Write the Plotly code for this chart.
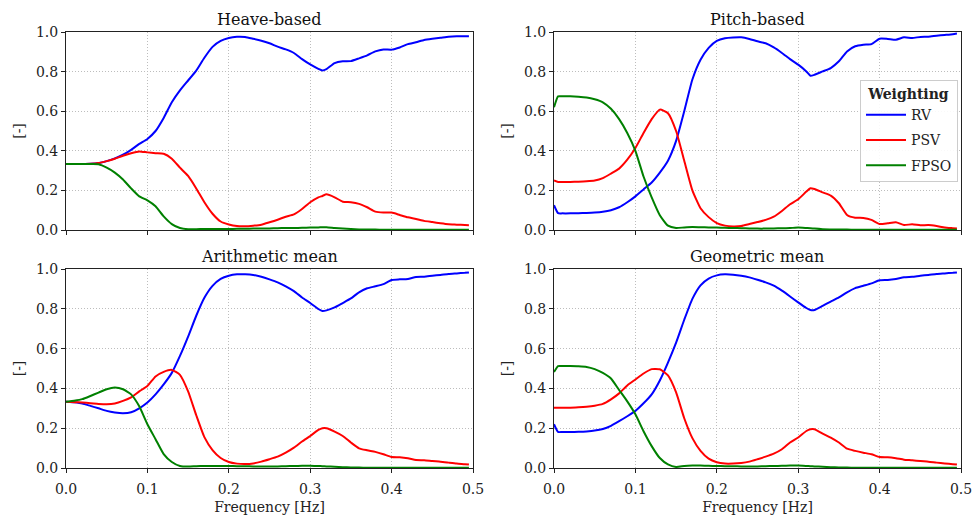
import plotly.graph_objects as go

freq = [0, 0.005, 0.01, 0.02, 0.03, 0.04, 0.05, 0.06, 0.07, 0.08, 0.09, 0.10,
        0.11, 0.12, 0.13, 0.14, 0.15, 0.16, 0.17, 0.18, 0.19, 0.20, 0.21, 0.22,
        0.23, 0.24, 0.25, 0.26, 0.27, 0.28, 0.29, 0.30, 0.31, 0.315, 0.32, 0.33,
        0.34, 0.35, 0.36, 0.37, 0.38, 0.39, 0.40, 0.41, 0.42, 0.43, 0.44, 0.45,
        0.46, 0.47, 0.48, 0.49, 0.495]

heave_rv = [0.333, 0.333, 0.333, 0.333, 0.334, 0.338, 0.348, 0.362, 0.38, 0.405, 0.435, 0.46,
            0.5, 0.566, 0.645, 0.705, 0.755, 0.805, 0.87, 0.925, 0.955, 0.97, 0.976, 0.975,
            0.966, 0.956, 0.943, 0.926, 0.912, 0.894, 0.863, 0.836, 0.814, 0.806, 0.813, 0.843,
            0.852, 0.853, 0.867, 0.882, 0.902, 0.912, 0.911, 0.922, 0.939, 0.948, 0.96, 0.966,
            0.971, 0.976, 0.978, 0.978, 0.978]
heave_psv = [0.333, 0.333, 0.333, 0.333, 0.334, 0.338, 0.348, 0.36, 0.375, 0.388, 0.397, 0.392,
             0.388, 0.385, 0.36, 0.315, 0.273, 0.21, 0.14, 0.082, 0.043, 0.028, 0.02, 0.019,
             0.022, 0.027, 0.039, 0.052, 0.067, 0.079, 0.106, 0.14, 0.165, 0.172, 0.180, 0.165,
             0.143, 0.14, 0.132, 0.115, 0.093, 0.088, 0.088, 0.076, 0.064, 0.056, 0.046, 0.04,
             0.034, 0.029, 0.027, 0.025, 0.024]
heave_fpso = [0.333, 0.333, 0.333, 0.333, 0.333, 0.332, 0.315, 0.29, 0.255, 0.21, 0.17, 0.15,
              0.12, 0.069, 0.03, 0.01, 0.004, 0.004, 0.005, 0.005, 0.005, 0.005, 0.006, 0.006,
              0.007, 0.007, 0.008, 0.009, 0.01, 0.01, 0.011, 0.012, 0.013, 0.014, 0.014, 0.01,
              0.007, 0.005, 0.003, 0.002, 0.002, 0.001, 0.001, 0.001, 0.001, 0.001, 0.001, 0.001,
              0.001, 0.001, 0.001, 0.001, 0.001]

pitch_rv = [0.125, 0.085, 0.084, 0.084, 0.085, 0.086, 0.088, 0.092, 0.10, 0.115, 0.14, 0.17,
            0.205, 0.24, 0.29, 0.35, 0.45, 0.60, 0.76, 0.86, 0.92, 0.955, 0.968, 0.972,
            0.973, 0.965, 0.953, 0.943, 0.922, 0.894, 0.863, 0.835, 0.801, 0.779, 0.784, 0.801,
            0.818, 0.852, 0.902, 0.928, 0.936, 0.939, 0.966, 0.965, 0.961, 0.973, 0.97, 0.975,
            0.976, 0.981, 0.985, 0.989, 0.992]
pitch_psv = [0.25, 0.243, 0.243, 0.243, 0.244, 0.246, 0.25, 0.262, 0.285, 0.31, 0.355, 0.414,
             0.49, 0.56, 0.608, 0.59, 0.50, 0.35, 0.20, 0.11, 0.065, 0.035, 0.022, 0.018,
             0.02, 0.03, 0.04, 0.051, 0.067, 0.096, 0.13, 0.155, 0.194, 0.211, 0.207, 0.19,
             0.174, 0.135, 0.076, 0.062, 0.061, 0.051, 0.03, 0.034, 0.039, 0.025, 0.029, 0.024,
             0.025, 0.02, 0.013, 0.009, 0.007]
pitch_fpso = [0.62, 0.675, 0.675, 0.675, 0.673, 0.669, 0.66, 0.645, 0.612, 0.56, 0.49, 0.40,
              0.27, 0.165, 0.075, 0.022, 0.01, 0.013, 0.015, 0.014, 0.013, 0.012, 0.011, 0.01,
              0.009, 0.008, 0.007, 0.007, 0.008, 0.009, 0.01, 0.012, 0.01, 0.009, 0.007, 0.004,
              0.003, 0.002, 0.002, 0.001, 0.001, 0.001, 0.001, 0.001, 0.001, 0.001, 0.001, 0.001,
              0.001, 0.001, 0.001, 0.001, 0.001]

arith_rv = [0.333, 0.332, 0.33, 0.324, 0.312, 0.3, 0.287, 0.279, 0.275, 0.28, 0.3, 0.329,
            0.37, 0.42, 0.478, 0.563, 0.66, 0.765, 0.855, 0.915, 0.95, 0.966, 0.973, 0.973,
            0.97, 0.961, 0.948, 0.933, 0.913, 0.889, 0.857, 0.829, 0.799, 0.789, 0.792, 0.807,
            0.829, 0.852, 0.883, 0.903, 0.913, 0.924, 0.945, 0.948, 0.95, 0.96, 0.961, 0.966,
            0.97, 0.975, 0.978, 0.981, 0.983]
arith_psv = [0.333, 0.332, 0.331, 0.329, 0.326, 0.322, 0.32, 0.324, 0.337, 0.355, 0.385, 0.412,
             0.46, 0.483, 0.493, 0.468, 0.385, 0.265, 0.155, 0.09, 0.05, 0.03, 0.022, 0.02,
             0.023, 0.032, 0.044, 0.057, 0.077, 0.102, 0.133, 0.161, 0.191, 0.2, 0.2, 0.183,
             0.161, 0.128, 0.099, 0.089, 0.081, 0.069, 0.055, 0.054, 0.049, 0.04, 0.039, 0.035,
             0.032, 0.027, 0.022, 0.019, 0.017]
arith_fpso = [0.333, 0.335, 0.338, 0.346, 0.362, 0.379, 0.396, 0.404, 0.396, 0.37, 0.31, 0.22,
              0.145, 0.07, 0.03, 0.01, 0.007, 0.009, 0.01, 0.01, 0.01, 0.01, 0.009, 0.009,
              0.008, 0.008, 0.008, 0.008, 0.009, 0.01, 0.011, 0.011, 0.01, 0.009, 0.008, 0.006,
              0.004, 0.003, 0.002, 0.001, 0.001, 0.001, 0.001, 0.001, 0.001, 0.001, 0.001, 0.001,
              0.001, 0.001, 0.001, 0.001, 0.001]

geo_rv = [0.22, 0.181, 0.181, 0.181, 0.182, 0.184, 0.188, 0.196, 0.212, 0.235, 0.26, 0.287,
          0.325, 0.37, 0.44, 0.53, 0.63, 0.745, 0.85, 0.918, 0.952, 0.968, 0.973, 0.971,
          0.966, 0.958, 0.946, 0.933, 0.916, 0.891, 0.862, 0.832, 0.804, 0.794, 0.794, 0.815,
          0.836, 0.857, 0.883, 0.904, 0.916, 0.928, 0.943, 0.945, 0.95, 0.958, 0.961, 0.966,
          0.97, 0.975, 0.978, 0.981, 0.983]
geo_psv = [0.303, 0.303, 0.303, 0.303, 0.305, 0.308, 0.313, 0.322, 0.345, 0.375, 0.415, 0.445,
           0.475, 0.497, 0.496, 0.465, 0.38, 0.25, 0.15, 0.086, 0.047, 0.029, 0.022, 0.022,
           0.025, 0.032, 0.044, 0.057, 0.072, 0.094, 0.128, 0.153, 0.186, 0.195, 0.195, 0.173,
           0.153, 0.128, 0.097, 0.086, 0.077, 0.069, 0.055, 0.054, 0.049, 0.042, 0.039, 0.035,
           0.032, 0.027, 0.023, 0.019, 0.017]
geo_fpso = [0.482, 0.512, 0.512, 0.512, 0.511, 0.508, 0.497, 0.478, 0.45, 0.392, 0.335, 0.27,
            0.185, 0.11, 0.05, 0.018, 0.005, 0.01, 0.012, 0.012, 0.011, 0.01, 0.009, 0.009,
            0.008, 0.008, 0.008, 0.009, 0.01, 0.011, 0.012, 0.012, 0.01, 0.009, 0.008, 0.006,
            0.004, 0.003, 0.002, 0.001, 0.001, 0.001, 0.001, 0.001, 0.001, 0.001, 0.001, 0.001,
            0.001, 0.001, 0.001, 0.001, 0.001]

panel_titles = ["Heave-based", "Pitch-based", "Arithmetic mean", "Geometric mean"]
series_names = ["RV", "PSV", "FPSO"]
series_colors = ["#0000ff", "#ff0000", "#008000"]
panels = [
    [heave_rv, heave_psv, heave_fpso],
    [pitch_rv, pitch_psv, pitch_fpso],
    [arith_rv, arith_psv, arith_fpso],
    [geo_rv, geo_psv, geo_fpso],
]
x_ticks = [0.0, 0.1, 0.2, 0.3, 0.4, 0.5]
y_ticks = [0.0, 0.2, 0.4, 0.6, 0.8, 1.0]

W, H = 973, 521
FONT = "'DejaVu Serif', serif"
TXT = "#222"
xdom = [[66 / W, 473 / W], [554 / W, 961 / W]]
ydom = [[1 - 230 / H, 1 - 32 / H], [1 - 468 / H, 1 - 269 / H]]

fig = go.Figure()
for i, data in enumerate(panels):
    r, c = divmod(i, 2)
    ax = "" if i == 0 else str(i + 1)
    for k, vals in enumerate(data):
        fig.add_trace(go.Scatter(
            x=freq, y=vals, mode="lines", name=series_names[k],
            legendgroup=series_names[k],
            line=dict(color=series_colors[k], width=2, shape="spline", smoothing=0.5),
            showlegend=(i == 1), xaxis="x" + ax, yaxis="y" + ax,
        ))
    common = dict(showline=True, linecolor="#222", linewidth=1, mirror=True,
                  showgrid=True, gridcolor="#bdbdbd", griddash="1px,2px", gridwidth=1,
                  ticks="outside", ticklen=4, tickcolor="#222", zeroline=False,
                  automargin=False,
                  tickfont=dict(family=FONT, size=14, color=TXT))
    xa = dict(common, domain=xdom[c], range=[0, 0.5], tickvals=x_ticks,
              ticktext=[f"{v:.1f}" for v in x_ticks], anchor="y" + ax,
              showticklabels=(r == 1), ticklabelstandoff=4)
    if r == 1:
        xa["title"] = dict(text="Frequency [Hz]", font=dict(family=FONT, size=14, color=TXT), standoff=6)
    ya = dict(common, domain=ydom[r], range=[0, 1.0], tickvals=y_ticks,
              ticktext=[f"{v:.1f}" for v in y_ticks], anchor="x" + ax,
              title=dict(text="[-]", font=dict(family=FONT, size=14, color=TXT), standoff=8))
    fig.update_layout(**{"xaxis" + ax: xa, "yaxis" + ax: ya})
    fig.add_annotation(text=panel_titles[i], xref="paper", yref="paper",
                       x=(xdom[c][0] + xdom[c][1]) / 2, xanchor="center",
                       y=ydom[r][1], yanchor="bottom",
                       yshift=1, showarrow=False,
                       font=dict(family=FONT, size=16, color="#111"))

fig.update_layout(
    width=W, height=H, margin=dict(l=0, r=0, t=0, b=0),
    paper_bgcolor="white", plot_bgcolor="white",
    font=dict(family=FONT, size=14, color=TXT),
    legend=dict(title=dict(text="<b>Weighting</b>", side="top center",
                           font=dict(family=FONT, size=14)),
                x=958 / W, xanchor="right", y=1 - 80 / H, yanchor="top",
                bgcolor="rgba(255,255,255,0.9)", bordercolor="#cccccc", borderwidth=1,
                font=dict(family=FONT, size=14), itemwidth=40,
                traceorder="grouped", tracegroupgap=4),
)

fig.write_html("out.html")
